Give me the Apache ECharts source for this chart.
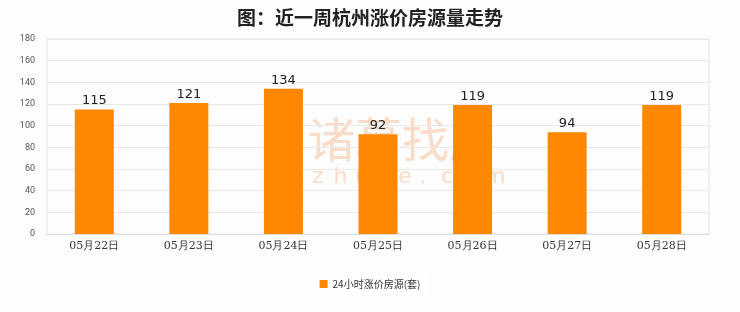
<!DOCTYPE html>
<html><head><meta charset="utf-8">
<script src="https://cdn.jsdelivr.net/npm/echarts@6/dist/echarts.min.js"></script>
<style>html,body{margin:0;padding:0;background:#fdfdfd}#c{width:740px;height:312px}</style>
</head><body><div id="c"></div>
<script>
const categories = ['05月22日','05月23日','05月24日','05月25日','05月26日','05月27日','05月28日'];
const values = [115,121,134,92,119,94,119];
const seriesName = '24小时涨价房源(套)';
const titleText = '图：近一周杭州涨价房源量走势';
const watermark = '诸葛找房';
const watermarkSub = 'zhuge.com';

const wmColor = '#f9dcc7';
const graphics = [
  {type: 'text', left: 308, top: 116, z: 0, style: {text: watermark, fontSize: 47, fill: wmColor, fontFamily: 'Noto Sans CJK SC'}}
];
watermarkSub.split('').forEach((ch, i) => {
  graphics.push({type: 'text', left: 312 + i * 21.5, top: 166, z: 0, style: {text: ch, fontSize: 22, fill: wmColor, fontFamily: 'DejaVu Sans'}});
});

const chart = echarts.init(document.getElementById('c'));
chart.setOption({
  backgroundColor: '#fdfdfd',
  animation: false,
  title: {
    text: titleText, left: 'center', top: 3,
    textStyle: {fontSize: 19, fontWeight: 'bold', color: '#222', fontFamily: 'Noto Sans CJK SC'}
  },
  legend: {
    bottom: 18, left: 'center', itemWidth: 8, itemHeight: 8, icon: 'rect',
    backgroundColor: '#fff', padding: [5, 8],
    textStyle: {fontSize: 10, color: '#333', fontFamily: 'Noto Sans CJK SC'},
    data: [seriesName]
  },
  graphic: graphics,
  grid: {left: 47, right: 31, top: 39, bottom: 78, show: true, borderColor: '#e2e2e2', borderWidth: 1, backgroundColor: 'transparent'},
  xAxis: {
    type: 'category', data: categories,
    axisLine: {lineStyle: {color: '#ddd'}}, axisTick: {show: false},
    axisLabel: {color: '#333', fontSize: 11, margin: 7, fontFamily: 'DejaVu Serif'}
  },
  yAxis: {
    type: 'value', min: 0, max: 180, interval: 20,
    axisLine: {show: false}, axisTick: {show: false},
    splitLine: {lineStyle: {color: '#e8e8e8'}},
    axisLabel: {color: '#555', fontSize: 9, margin: 12, fontFamily: 'Roboto'}
  },
  series: [{
    name: seriesName, type: 'bar', data: values, barWidth: 39, z: 5,
    itemStyle: {color: '#ff8800'},
    label: {show: true, position: 'top', color: '#222', fontSize: 13, distance: 2, fontFamily: 'DejaVu Sans'}
  }]
});
</script></body></html>
